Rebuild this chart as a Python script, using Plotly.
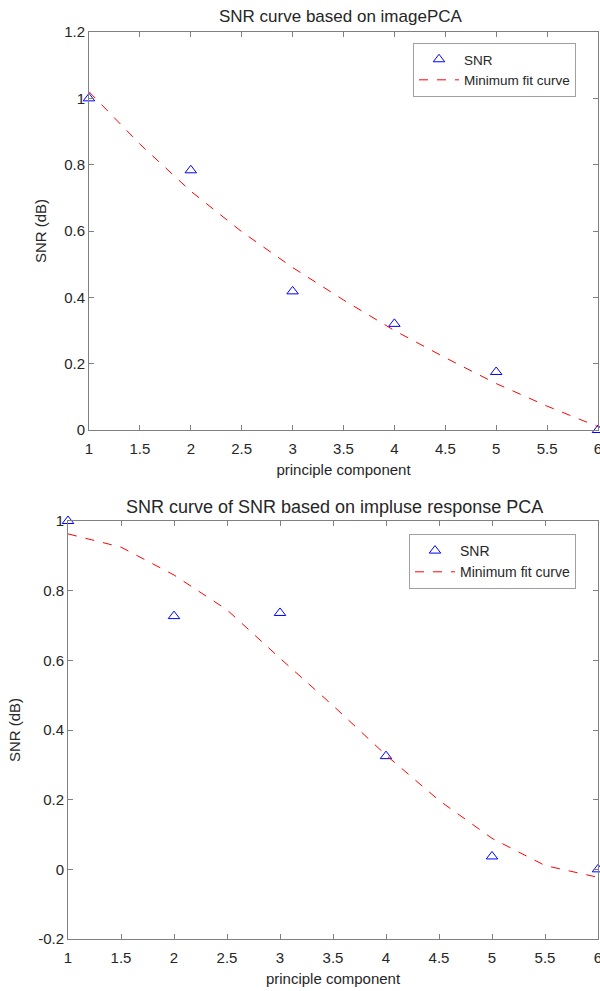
import plotly.graph_objects as go

# ---- data ----
pc = [1, 2, 3, 4, 5, 6]
snr_image = [1.0, 0.783, 0.418, 0.320, 0.175, 0.0]
fit_x = [1, 1.5, 2, 2.5, 3, 3.5, 4, 4.5, 5, 5.5, 6]
fit_image = [1.02, 0.862, 0.72, 0.598, 0.49, 0.392, 0.30, 0.218, 0.14, 0.072, 0.01]

snr_impulse = [1.0, 0.727, 0.736, 0.325, 0.037, 0.0]
fit_impulse = [0.963, 0.925, 0.845, 0.745, 0.606, 0.47, 0.328, 0.198, 0.089, 0.011, -0.023]

x_ticks = [1, 1.5, 2, 2.5, 3, 3.5, 4, 4.5, 5, 5.5, 6]
x_ticktext = ["1", "1.5", "2", "2.5", "3", "3.5", "4", "4.5", "5", "5.5", "6"]
y1_ticks = [0, 0.2, 0.4, 0.6, 0.8, 1.0, 1.2]
y1_ticktext = ["0", "0.2", "0.4", "0.6", "0.8", "1", "1.2"]
y2_ticks = [-0.2, 0, 0.2, 0.4, 0.6, 0.8, 1.0]
y2_ticktext = ["-0.2", "0", "0.2", "0.4", "0.6", "0.8", "1"]

title1 = "SNR curve based on imagePCA"
title2 = "SNR curve of SNR based on impluse response PCA"

W, H = 600, 991
FONT = "Arial, Liberation Sans, sans-serif"
TXT = "#262626"
AX = "#808080"

fig = go.Figure()

fig.add_trace(go.Scatter(x=pc, y=snr_image, mode="markers", name="SNR",
                         marker=dict(symbol="triangle-up-open", size=10, color="#0000ff",
                                     line=dict(width=1)),
                         cliponaxis=False, xaxis="x", yaxis="y", legend="legend"))
fig.add_trace(go.Scatter(x=fit_x, y=fit_image, mode="lines", name="Minimum fit curve",
                         line=dict(color="#ff0000", dash="dash", width=1),
                         cliponaxis=False, xaxis="x", yaxis="y", legend="legend"))
fig.add_trace(go.Scatter(x=pc, y=snr_impulse, mode="markers", name="SNR",
                         marker=dict(symbol="triangle-up-open", size=10, color="#0000ff",
                                     line=dict(width=1)),
                         cliponaxis=False, xaxis="x2", yaxis="y2", legend="legend2"))
fig.add_trace(go.Scatter(x=fit_x, y=fit_impulse, mode="lines", name="Minimum fit curve",
                         line=dict(color="#ff0000", dash="dash", width=1),
                         cliponaxis=False, xaxis="x2", yaxis="y2", legend="legend2"))

def px_x(p):
    return p / W

def px_y(p):
    return 1 - p / H

axis_common = dict(showline=True, linecolor=AX, linewidth=1, mirror="ticks",
                   ticks="inside", ticklen=5, tickcolor=AX, showgrid=False,
                   zeroline=False, automargin=False, ticklabeloverflow="allow",
                   tickfont=dict(size=15, color=TXT, family=FONT))

fig.update_layout(
    width=W, height=H,
    margin=dict(l=0, r=0, t=0, b=0),
    paper_bgcolor="white", plot_bgcolor="white",
    font=dict(family=FONT, color=TXT, size=15),
    xaxis=dict(domain=[px_x(89), px_x(598)], range=[1, 6], anchor="y",
               tickvals=x_ticks, ticktext=x_ticktext, ticklabelstandoff=5,
               title=dict(text="principle component", font=dict(size=15, color=TXT), standoff=8),
               **axis_common),
    yaxis=dict(domain=[px_y(430), px_y(32)], range=[0, 1.2], anchor="x",
               tickvals=y1_ticks, ticktext=y1_ticktext,
               title=dict(text="SNR (dB)", font=dict(size=15, color=TXT), standoff=13),
               **axis_common),
    xaxis2=dict(domain=[px_x(68), px_x(598)], range=[1, 6], anchor="y2",
                tickvals=x_ticks, ticktext=x_ticktext, ticklabelstandoff=5,
                title=dict(text="principle component", font=dict(size=15, color=TXT), standoff=8),
                **axis_common),
    yaxis2=dict(domain=[px_y(939), px_y(521)], range=[-0.2, 1.0], anchor="x2",
                tickvals=y2_ticks, ticktext=y2_ticktext,
                title=dict(text="SNR (dB)", font=dict(size=15, color=TXT), standoff=13),
                **axis_common),
    legend=dict(x=px_x(413), y=px_y(43), xanchor="left", yanchor="top",
                bgcolor="white", bordercolor="#a0a0a0", borderwidth=1,
                font=dict(size=13.5, color=TXT), tracegroupgap=0, itemwidth=40),
    legend2=dict(x=px_x(409), y=px_y(534), xanchor="left", yanchor="top",
                 bgcolor="white", bordercolor="#a0a0a0", borderwidth=1,
                 font=dict(size=14, color=TXT), tracegroupgap=0, itemwidth=40),
    annotations=[
        dict(text=title1, x=px_x(341), y=px_y(17), xref="paper", yref="paper",
             showarrow=False, font=dict(size=17, color=TXT), xanchor="center", yanchor="middle"),
        dict(text=title2, x=px_x(334), y=px_y(507), xref="paper", yref="paper",
             showarrow=False, font=dict(size=18, color=TXT), xanchor="center", yanchor="middle"),
    ],
)

fig.write_html("out.html", config={"displayModeBar": False},
               post_script="document.body.style.margin='0';document.body.style.overflow='hidden';")
